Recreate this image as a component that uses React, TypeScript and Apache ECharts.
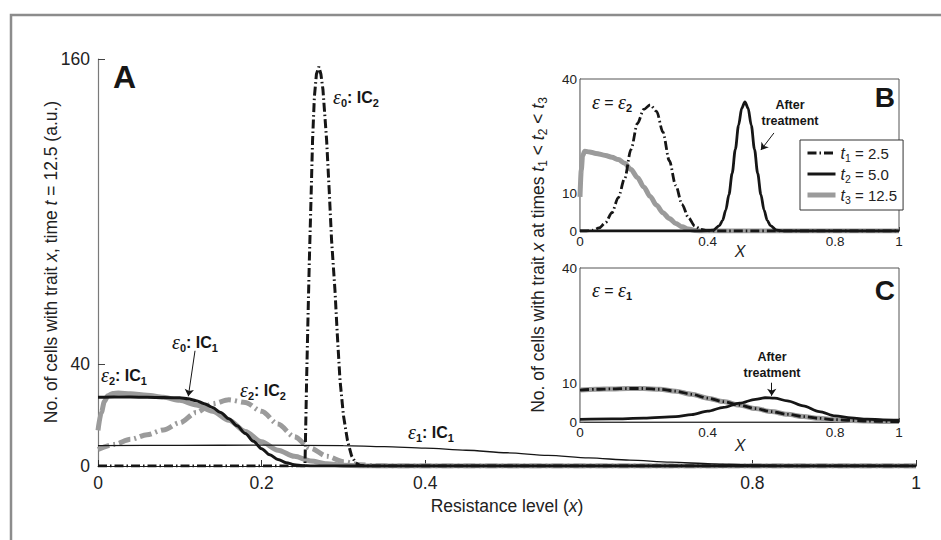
import React, { useEffect, useRef } from 'react';
import * as echarts from 'echarts';

// ---------- Panel A: cells with trait x at t = 12.5 ([x, count]) ----------
const eps0IC2: [number, number][] = [
  [0, 0], [0.1, 0], [0.2, 0], [0.25, 0], [0.253, 0], [0.2535, 8], [0.2551, 35], [0.2567, 58], [0.2583, 80],
  [0.2605, 106], [0.2623, 128], [0.2645, 145], [0.267, 154], [0.27, 157], [0.2725, 154], [0.275, 148],
  [0.2795, 128], [0.2827, 108], [0.2855, 89], [0.2897, 69], [0.2925, 52], [0.2958, 34], [0.3, 20],
  [0.305, 10], [0.31, 4], [0.315, 1.2], [0.32, 0.3], [0.33, 0], [0.5, 0], [1, 0],
];
const eps0IC1: [number, number][] = [
  [0, 27], [0.02, 27.1], [0.04, 27.1], [0.06, 27], [0.08, 26.9], [0.1, 26.8], [0.11, 26.4], [0.12, 25.7],
  [0.13, 24.5], [0.14, 23], [0.15, 21], [0.16, 18.6], [0.17, 15.8], [0.18, 12.8], [0.19, 9.7], [0.2, 6.8],
  [0.21, 4.4], [0.22, 2.6], [0.23, 1.3], [0.24, 0.5], [0.25, 0.1], [0.26, 0], [0.5, 0], [1, 0],
];
const eps2IC1: [number, number][] = [
  [0, 14], [0.004, 21], [0.008, 25.5], [0.012, 27.6], [0.018, 28.5], [0.025, 28.7], [0.04, 28.4],
  [0.06, 27.8], [0.08, 27], [0.1, 25.8], [0.12, 24], [0.14, 21.5], [0.16, 18], [0.18, 13.6], [0.2, 9.5],
  [0.22, 6.2], [0.24, 3.8], [0.26, 2], [0.28, 0.9], [0.3, 0.3], [0.32, 0], [1, 0],
];
const eps2IC2: [number, number][] = [
  [0, 6.5], [0.02, 8.5], [0.04, 10.5], [0.06, 12.3], [0.08, 14.2], [0.1, 17], [0.12, 21], [0.14, 24.5],
  [0.16, 26], [0.18, 25], [0.2, 21.5], [0.22, 16.5], [0.24, 11.5], [0.26, 7], [0.28, 3.8], [0.3, 1.7],
  [0.32, 0.5], [0.34, 0.1], [0.36, 0], [1, 0],
];
const eps1IC1: [number, number][] = [
  [0, 8], [0.1, 8.1], [0.2, 8.2], [0.3, 8], [0.35, 7.6], [0.4, 7], [0.45, 6.2], [0.5, 5.2], [0.55, 4.2],
  [0.6, 3.2], [0.65, 2.3], [0.7, 1.5], [0.75, 0.85], [0.8, 0.4], [0.85, 0.15], [0.9, 0.05], [1, 0],
];

// ---------- Panel B: epsilon = epsilon2 at t1, t2, t3 ----------
const bT1: [number, number][] = [
  [0, 0], [0.02, 0], [0.04, 0.2], [0.06, 0.8], [0.08, 2.2], [0.1, 4.8], [0.12, 8.8], [0.14, 13.8],
  [0.16, 21.5], [0.18, 28.3], [0.2, 32], [0.22, 33.2], [0.24, 31.5], [0.26, 26], [0.28, 18.5], [0.3, 12],
  [0.32, 7], [0.34, 3.5], [0.36, 1.3], [0.38, 0.4], [0.4, 0.1], [0.42, 0], [1, 0],
];
const bT2: [number, number][] = [
  [0, 0], [0.38, 0], [0.417, 0.2], [0.437, 1.4], [0.447, 2.8], [0.457, 5.5], [0.467, 9.6], [0.477, 15.2],
  [0.487, 21.5], [0.497, 27.8], [0.507, 32.3], [0.517, 34], [0.527, 32.3], [0.537, 27.8], [0.547, 21.5],
  [0.557, 15.2], [0.567, 9.6], [0.577, 5.5], [0.587, 2.8], [0.597, 1.4], [0.617, 0.2], [0.64, 0], [1, 0],
];
const bT3: [number, number][] = [
  [0, 9], [0.004, 16], [0.008, 19.8], [0.015, 21], [0.03, 20.8], [0.05, 20.4], [0.08, 19.9], [0.1, 19.4],
  [0.12, 18.8], [0.14, 17.8], [0.16, 16.2], [0.18, 14.1], [0.2, 11.6], [0.22, 9.1], [0.24, 6.8], [0.26, 4.8],
  [0.28, 3.3], [0.3, 2], [0.32, 1.1], [0.34, 0.5], [0.36, 0.15], [0.38, 0], [1, 0],
];

// ---------- Panel C: epsilon = epsilon1 at t1, t2, t3 ----------
const cT1: [number, number][] = [
  [0, 8.3], [0.05, 8.5], [0.1, 8.6], [0.15, 8.7], [0.2, 8.7], [0.25, 8.5], [0.3, 8], [0.35, 7.2],
  [0.4, 6.2], [0.45, 5.3], [0.5, 4.4], [0.55, 3.5], [0.6, 2.7], [0.65, 2], [0.7, 1.4], [0.75, 0.95],
  [0.8, 0.6], [0.85, 0.4], [0.9, 0.25], [0.95, 0.15], [1, 0.1],
];
const cT2: [number, number][] = [
  [0, 0.7], [0.1, 0.8], [0.2, 1], [0.3, 1.4], [0.35, 1.9], [0.4, 2.8], [0.45, 3.8], [0.5, 4.9],
  [0.55, 5.9], [0.58, 6.3], [0.61, 6.2], [0.65, 5.5], [0.7, 4.2], [0.75, 2.7], [0.8, 1.6], [0.85, 1.05],
  [0.9, 0.75], [0.95, 0.55], [1, 0.45],
];
const cT3: [number, number][] = [
  [0, 8.3], [0.05, 8.5], [0.1, 8.6], [0.15, 8.7], [0.2, 8.7], [0.25, 8.5], [0.3, 8], [0.35, 7.2],
  [0.4, 6.2], [0.45, 5.3], [0.5, 4.4], [0.55, 3.5], [0.6, 2.7], [0.65, 2], [0.7, 1.4], [0.75, 0.95],
  [0.8, 0.6], [0.85, 0.4], [0.9, 0.25], [0.95, 0.15], [1, 0.1],
];

// ---------- ticks & legend ----------
const mainXTicks = [0, 0.2, 0.4, 0.8, 1];
const mainYTicks = [0, 40, 160];
const insetXTicks = [0, 0.4, 0.8, 1];
const insetYTicks = [0, 10, 40];
const legendNames = ['t1', 't2', 't3'];
const legendValues = ['2.5', '5.0', '12.5'];

const SANS = '"Liberation Sans", Arial, Helvetica, sans-serif';
const SERIF = '"Liberation Serif", "Times New Roman", serif';
const BLACK = '#161616';
const GRAY = '#9b9b9b';
const DASHDOT_BLACK = [9, 3, 1.5, 3];
const DASHDOT_GRAY = [12, 4, 2, 4];

function mkLine(name: string, data: [number, number][], idx: number, color: string, width: number, type: any, z: number, extra: any = {}) {
  return {
    type: 'line', name, data, xAxisIndex: idx, yAxisIndex: idx,
    showSymbol: false, symbol: 'none', smooth: 0.3, smoothMonotone: 'x', z,
    lineStyle: { color, width, type, cap: 'butt' },
    itemStyle: { color },
    emphasis: { disabled: true },
    ...extra,
  };
}

function arrow(from: [number, number], to: [number, number]) {
  return {
    silent: true, symbol: ['none', 'arrow'], symbolSize: 7,
    label: { show: false },
    lineStyle: { color: BLACK, width: 1, type: 'solid' },
    data: [[{ coord: from }, { coord: to }]],
  };
}

const annoRich = {
  e: { fontFamily: SERIF, fontStyle: 'italic', fontSize: 20, lineHeight: 22, fill: BLACK },
  b: { fontFamily: SANS, fontWeight: 'bold', fontSize: 16, lineHeight: 22, fill: BLACK },
  n: { fontFamily: SANS, fontSize: 16, lineHeight: 22, fill: BLACK },
  s: { fontFamily: SANS, fontWeight: 'bold', fontSize: 11, lineHeight: 11, verticalAlign: 'bottom', fill: BLACK },
};

const labelRich = {
  n: { fontFamily: SANS, fontSize: 17.5, lineHeight: 22, fill: '#222' },
  i: { fontFamily: SANS, fontStyle: 'italic', fontSize: 17.5, lineHeight: 22, fill: '#222' },
  s: { fontFamily: SANS, fontSize: 12, lineHeight: 12, verticalAlign: 'bottom', fill: '#222' },
};

function anno(x: number, y: number, text: string, align = 'left') {
  return { type: 'text', x, y, z: 100, style: { text, rich: annoRich, align, verticalAlign: 'middle', fill: BLACK } };
}

function xAxisCfg(idx: number, ticks: number[], fontSize: number, tickLen: number, margin: number) {
  return {
    type: 'value', gridIndex: idx, min: 0, max: 1,
    axisLine: { show: true, onZero: false, lineStyle: { color: '#222', width: 1 } },
    axisTick: { show: true, inside: true, length: tickLen, customValues: ticks, lineStyle: { color: '#333' } },
    axisLabel: { show: true, customValues: ticks, fontSize, color: '#222', fontFamily: SANS, margin, showMinLabel: true, showMaxLabel: true },
    splitLine: { show: false },
  };
}
function yAxisCfg(idx: number, max: number, ticks: number[], fontSize: number, tickLen: number, margin: number, lineColor: string) {
  return {
    type: 'value', gridIndex: idx, min: 0, max,
    axisLine: { show: true, onZero: false, lineStyle: { color: lineColor, width: 1.2 } },
    axisTick: { show: true, inside: true, length: tickLen, customValues: ticks, lineStyle: { color: '#444' } },
    axisLabel: { show: true, customValues: ticks, fontSize, color: '#222', fontFamily: SANS, margin, showMinLabel: true, showMaxLabel: true },
    splitLine: { show: false },
  };
}

export default function App() {
  const ref = useRef<HTMLDivElement>(null);
  useEffect(() => {
    if (!ref.current) return;
    const chart = echarts.init(ref.current, null, { renderer: 'svg' });
    const mainX: any = xAxisCfg(0, mainXTicks, 17.5, 6, 8);
    mainX.name = '{n|Resistance level (}{i|x}{n|)}';
    mainX.nameLocation = 'middle';
    mainX.nameGap = 27;
    mainX.nameTextStyle = {
      rich: {
        n: { fontFamily: SANS, fontSize: 17.5, color: '#222' },
        i: { fontFamily: SANS, fontStyle: 'italic', fontSize: 17.5, color: '#222' },
      },
    };
    const legendWidths = [3, 3, 5];
    const option: any = {
      animation: false,
      backgroundColor: '#ffffff',
      textStyle: { fontFamily: SANS },
      grid: [
        { left: 98, top: 59, width: 818, height: 407, show: false },
        { left: 580, top: 79, width: 319, height: 152, show: true, borderColor: '#555', borderWidth: 1, backgroundColor: '#fff', z: 1 },
        { left: 580, top: 268, width: 319, height: 154, show: true, borderColor: '#555', borderWidth: 1, backgroundColor: '#fff', z: 1 },
      ],
      xAxis: [
        mainX,
        xAxisCfg(1, insetXTicks, 13.5, 4, 3),
        xAxisCfg(2, insetXTicks, 13.5, 4, 3),
      ],
      yAxis: [
        yAxisCfg(0, 160, mainYTicks, 17.5, 7, 8, '#7a7a7a'),
        yAxisCfg(1, 40, insetYTicks, 13.5, 4, 3, '#333'),
        yAxisCfg(2, 40, insetYTicks, 13.5, 4, 3, '#333'),
      ],
      legend: {
        data: legendNames.map((name, k) => ({ name, lineStyle: { width: legendWidths[k] } })),
        left: 800, top: 140, orient: 'vertical',
        itemWidth: 28, itemHeight: 14, itemGap: 3,
        padding: [5, 6, 5, 5],
        borderColor: '#333', borderWidth: 1, backgroundColor: '#fff',
        selectedMode: false,
        itemStyle: { opacity: 0 },
        formatter: (name: string) => {
          const k = legendNames.indexOf(name);
          return `{t|t}{s|${k + 1}}{v| = ${legendValues[k]}}`;
        },
        textStyle: {
          color: '#222',
          rich: {
            t: { fontFamily: SANS, fontStyle: 'italic', fontSize: 16, lineHeight: 20, color: '#222' },
            s: { fontFamily: SANS, fontSize: 10.5, lineHeight: 10, verticalAlign: 'bottom', color: '#222' },
            v: { fontFamily: SANS, fontSize: 15, lineHeight: 20, color: '#222' },
          },
        },
      },
      series: [
        // Panel A
        mkLine('e2IC2', eps2IC2, 0, GRAY, 5, DASHDOT_GRAY, 2),
        mkLine('e2IC1', eps2IC1, 0, GRAY, 5, 'solid', 3),
        mkLine('e1IC1', eps1IC1, 0, BLACK, 1.3, 'solid', 4),
        mkLine('e0IC1', eps0IC1, 0, BLACK, 3, 'solid', 5, { markLine: arrow([0.1186, 45.3], [0.1104, 27.4]) }),
        mkLine('e0IC2', eps0IC2, 0, BLACK, 3, DASHDOT_BLACK, 6, { smooth: false }),
        // Panel B
        mkLine('t3', bT3, 1, GRAY, 5, 'solid', 3),
        mkLine('t1', bT1, 1, BLACK, 2.8, DASHDOT_BLACK, 4),
        mkLine('t2', bT2, 1, BLACK, 2.8, 'solid', 5, { markLine: arrow([0.608, 25.8], [0.567, 21.3]) }),
        // Panel C
        mkLine('t3', cT3, 2, GRAY, 5, 'solid', 3),
        mkLine('t1', cT1, 2, BLACK, 2.8, DASHDOT_BLACK, 4),
        mkLine('t2', cT2, 2, BLACK, 2.8, 'solid', 5, { markLine: arrow([0.601, 10.2], [0.601, 6.8]) }),
      ],
      graphic: [
        { type: 'rect', z: 0, shape: { x: 11, y: 15, width: 1000, height: 600 }, style: { fill: 'none', stroke: '#8c8c8c', lineWidth: 2.5 } },
        { type: 'text', x: 113, y: 77, z: 100, style: { text: 'A', fontFamily: SANS, fontWeight: 'bold', fontSize: 32, fill: BLACK, align: 'left', verticalAlign: 'middle' } },
        { type: 'text', x: 895, y: 97, z: 100, style: { text: 'B', fontFamily: SANS, fontWeight: 'bold', fontSize: 28, fill: BLACK, align: 'right', verticalAlign: 'middle' } },
        { type: 'text', x: 895, y: 290, z: 100, style: { text: 'C', fontFamily: SANS, fontWeight: 'bold', fontSize: 28, fill: BLACK, align: 'right', verticalAlign: 'middle' } },
        anno(333, 97, '{e|ε}{s|0}{b|: IC}{s|2}'),
        anno(172, 342, '{e|ε}{s|0}{b|: IC}{s|1}'),
        anno(101, 375, '{e|ε}{s|2}{b|: IC}{s|1}'),
        anno(240, 390, '{e|ε}{s|2}{b|: IC}{s|2}'),
        anno(408, 432, '{e|ε}{s|1}{b|: IC}{s|1}'),
        anno(592, 102, '{e|ε}{n| = }{e|ε}{s|2}'),
        anno(592, 290, '{e|ε}{n| = }{e|ε}{s|1}'),
        { type: 'text', x: 790, y: 113, z: 100, style: { text: 'After\ntreatment', fontFamily: SANS, fontWeight: 'bold', fontSize: 12.5, lineHeight: 16, fill: BLACK, align: 'center', verticalAlign: 'middle' } },
        { type: 'text', x: 772, y: 365, z: 100, style: { text: 'After\ntreatment', fontFamily: SANS, fontWeight: 'bold', fontSize: 12.5, lineHeight: 16, fill: BLACK, align: 'center', verticalAlign: 'middle' } },
        { type: 'text', x: 740, y: 251, z: 100, style: { text: 'X', fontFamily: SANS, fontStyle: 'italic', fontSize: 16, fill: '#222', align: 'center', verticalAlign: 'middle' } },
        { type: 'text', x: 740, y: 445, z: 100, style: { text: 'X', fontFamily: SANS, fontStyle: 'italic', fontSize: 16, fill: '#222', align: 'center', verticalAlign: 'middle' } },
        { type: 'text', x: 51, y: 262, rotation: Math.PI / 2, z: 100, style: { text: '{n|No. of cells with trait }{i|x}{n|, time }{i|t}{n| = 12.5 (a.u.)}', rich: labelRich, align: 'center', verticalAlign: 'middle', fill: '#222' } },
        { type: 'text', x: 538, y: 255, rotation: Math.PI / 2, z: 100, style: { text: '{n|No. of cells with trait }{i|x}{n| at times }{i|t}{s|1}{n| < }{i|t}{s|2}{n| < }{i|t}{s|3}', rich: labelRich, align: 'center', verticalAlign: 'middle', fill: '#222' } },
      ],
    };
    chart.setOption(option);
    return () => chart.dispose();
  }, []);
  return <div ref={ref} style={{ position: 'absolute', left: 0, top: 0, width: 941, height: 540 }} />;
}
